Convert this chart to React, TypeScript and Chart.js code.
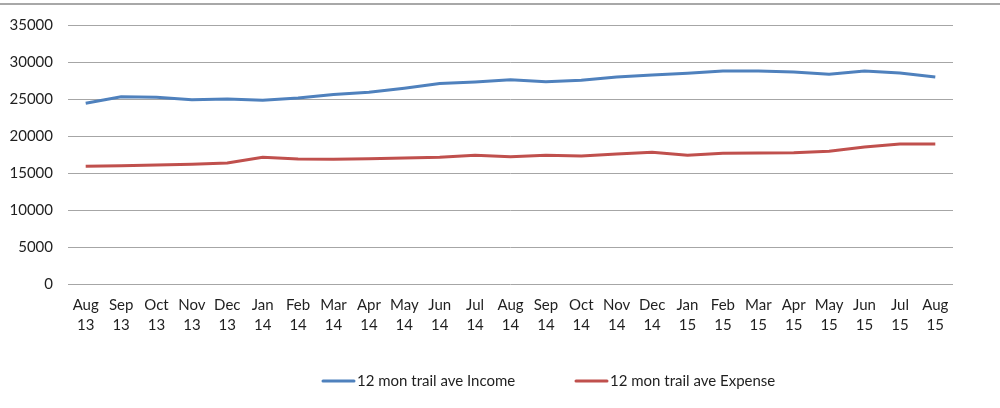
import React, { useEffect, useRef } from "react";
import { Chart, registerables } from "chart.js";

Chart.register(...registerables);

const categories: string[][] = [
  ["Aug", "13"], ["Sep", "13"], ["Oct", "13"], ["Nov", "13"], ["Dec", "13"],
  ["Jan", "14"], ["Feb", "14"], ["Mar", "14"], ["Apr", "14"], ["May", "14"],
  ["Jun", "14"], ["Jul", "14"], ["Aug", "14"], ["Sep", "14"], ["Oct", "14"],
  ["Nov", "14"], ["Dec", "14"], ["Jan", "15"], ["Feb", "15"], ["Mar", "15"],
  ["Apr", "15"], ["May", "15"], ["Jun", "15"], ["Jul", "15"], ["Aug", "15"],
];

const incomeName = "12 mon trail ave Income";
const expenseName = "12 mon trail ave Expense";

const incomeValues: number[] = [
  24420, 25310, 25230, 24910, 25000, 24820, 25150, 25600, 25900, 26450,
  27100, 27300, 27600, 27340, 27520, 27970, 28240, 28470, 28780, 28780,
  28650, 28330, 28780, 28510, 27970,
];

const expenseValues: number[] = [
  15900, 15990, 16080, 16170, 16350, 17120, 16890, 16850, 16940, 17030,
  17120, 17390, 17210, 17390, 17300, 17570, 17790, 17390, 17660, 17700,
  17750, 17930, 18510, 18920, 18920,
];

const yTicks = { min: 0, max: 35000, step: 5000 };

const FONT = "Lato, 'Open Sans', sans-serif";
const TEXT = "#1f1f1f";

const legendPlugin = {
  id: "customLegend",
  afterDraw(chart: any) {
    const ctx = chart.ctx;
    const ds = chart.data.datasets;
    ctx.save();
    ctx.font = `15px ${FONT}`;
    ctx.textBaseline = "middle";
    ctx.textAlign = "left";
    const y = 381;
    let x = 322;
    ds.forEach((d: any) => {
      ctx.strokeStyle = d.borderColor;
      ctx.lineWidth = 3;
      ctx.lineCap = "round";
      ctx.beginPath();
      ctx.moveTo(x + 1, y);
      ctx.lineTo(x + 32, y);
      ctx.stroke();
      ctx.fillStyle = TEXT;
      ctx.fillText(d.label, x + 35, y);
      x = 575;
    });
    ctx.restore();
  },
};

export default function App() {
  const ref = useRef<HTMLCanvasElement | null>(null);

  useEffect(() => {
    if (!ref.current) return;
    const chart = new Chart(ref.current, {
      type: "line",
      data: {
        labels: categories,
        datasets: [
          {
            label: incomeName,
            data: incomeValues,
            borderColor: "#4F81BD",
            backgroundColor: "#4F81BD",
            borderWidth: 3,
            pointRadius: 0,
            tension: 0,
          },
          {
            label: expenseName,
            data: expenseValues,
            borderColor: "#C0504D",
            backgroundColor: "#C0504D",
            borderWidth: 3,
            pointRadius: 0,
            tension: 0,
          },
        ],
      },
      options: {
        animation: false,
        responsive: false,
        maintainAspectRatio: false,
        layout: { padding: { top: 25, right: 47, bottom: 44, left: 0 } },
        plugins: {
          legend: { display: false },
          tooltip: { enabled: false },
        },
        scales: {
          x: {
            offset: true,
            grid: { display: false, drawTicks: false },
            border: { display: false },
            ticks: {
              color: TEXT,
              font: { family: FONT, size: 15, lineHeight: "20px" as any },
              padding: 11,
              maxRotation: 0,
              autoSkip: false,
            },
            afterFit: (s: any) => {
              s.height = 80;
            },
          },
          y: {
            min: yTicks.min,
            max: yTicks.max,
            grid: { color: "#a6a6a6", lineWidth: 1, drawTicks: false },
            border: { display: false },
            ticks: {
              stepSize: yTicks.step,
              color: TEXT,
              font: { family: FONT, size: 15 },
              padding: 15,
              callback: (v: any) => String(v),
            },
            afterFit: (s: any) => {
              s.width = 68;
            },
          },
        },
      },
      plugins: [legendPlugin],
    });
    return () => chart.destroy();
  }, []);

  return (
    <div style={{ position: "absolute", left: 0, top: 0, width: 1000, height: 408, background: "#fff" }}>
      <div style={{ position: "absolute", left: 0, top: 3, width: 1000, height: 2, background: "#a8a8a8" }} />
      <canvas ref={ref} width={1000} height={408} style={{ position: "absolute", left: 0, top: 0 }} />
    </div>
  );
}
